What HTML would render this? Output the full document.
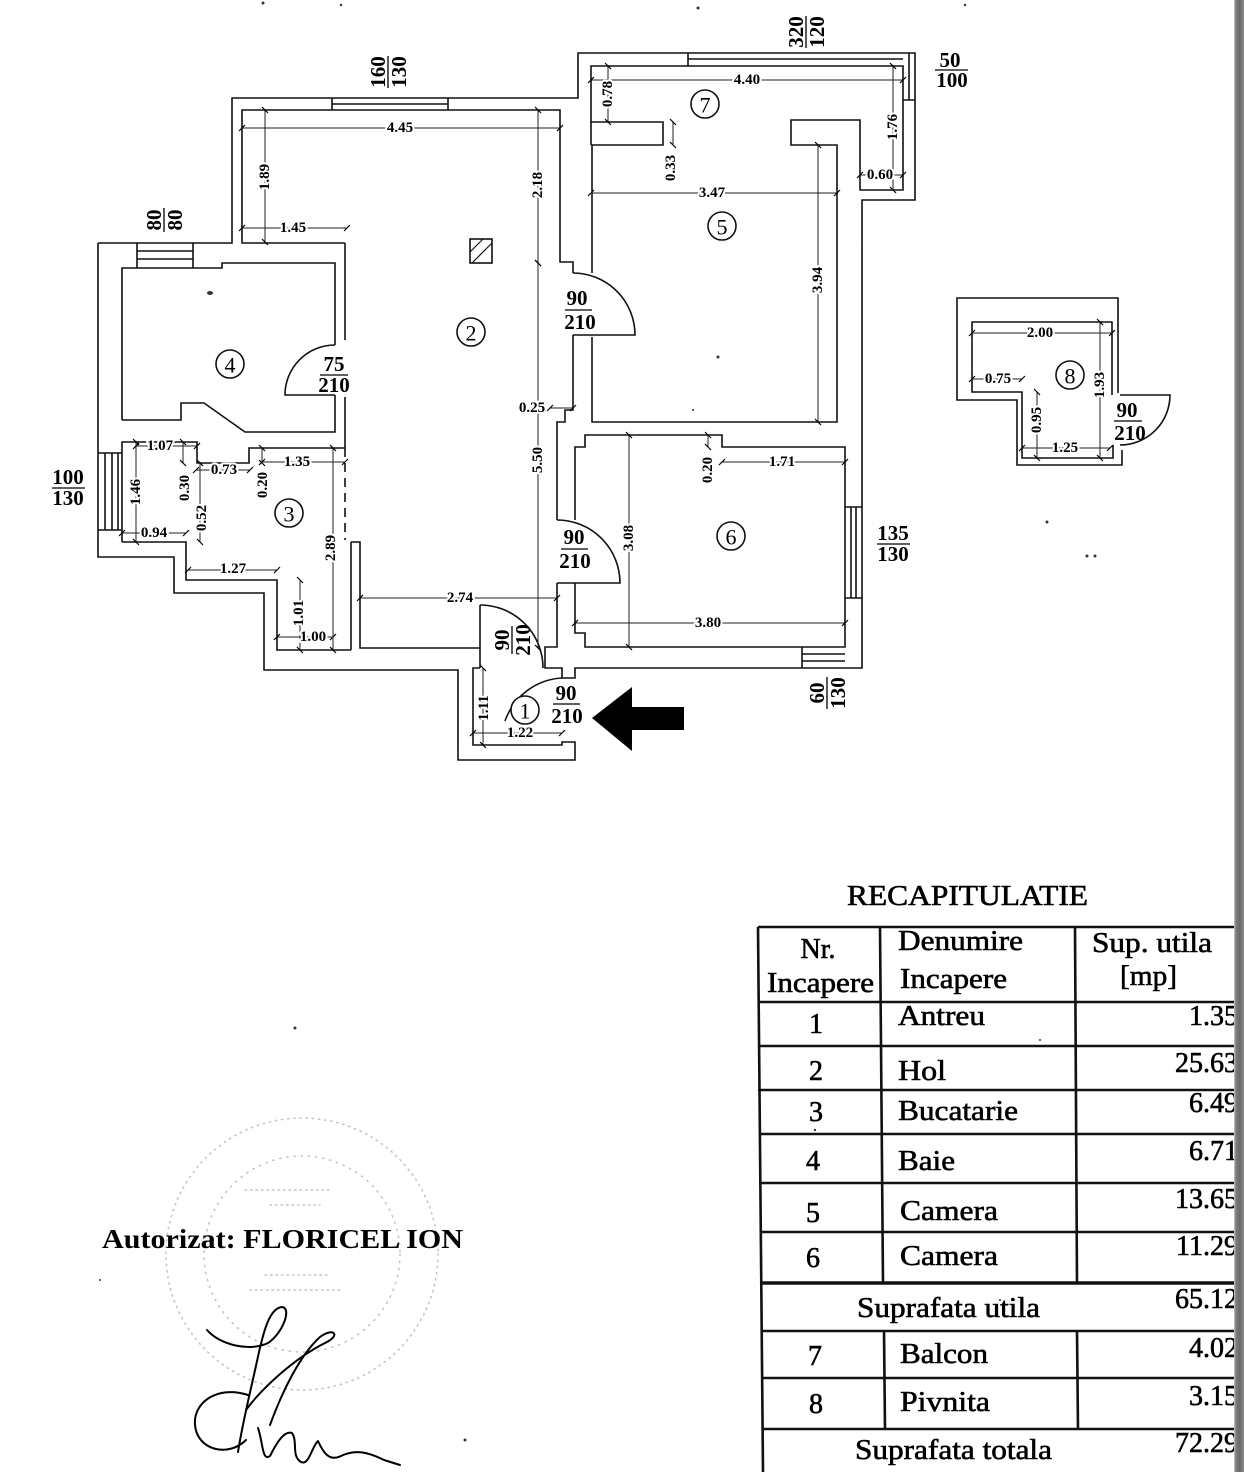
<!DOCTYPE html>
<html>
<head>
<meta charset="utf-8">
<style>
html,body{margin:0;padding:0;background:#fff;}
svg{display:block;}
.w{fill:none;stroke:#111;stroke-width:1.6;stroke-linejoin:miter;}
.d line{stroke:#222;stroke-width:1;marker-start:url(#tk);marker-end:url(#tk);}
.dt{font-family:"Liberation Serif",serif;font-weight:bold;font-size:15px;fill:#000;text-anchor:middle;dominant-baseline:central;paint-order:stroke;stroke:#fff;stroke-width:4px;stroke-linejoin:round;}
.dl{font-family:"Liberation Serif",serif;font-weight:bold;font-size:21px;fill:#000;text-anchor:middle;dominant-baseline:central;}
.cn{font-family:"Liberation Serif",serif;font-size:22px;fill:#000;text-anchor:middle;dominant-baseline:central;}
.tb{font-family:"Liberation Serif",serif;font-size:28px;fill:#000;stroke:#000;stroke-width:0.6px;}
.tl{stroke:#111;stroke-width:2.6;}
</style>
</head>
<body>
<svg width="1244" height="1472" viewBox="0 0 1244 1472" xmlns="http://www.w3.org/2000/svg">
<defs>
<marker id="tk" markerWidth="10" markerHeight="10" refX="5" refY="5" orient="auto" markerUnits="userSpaceOnUse">
<path d="M2 8 L8 2" stroke="#000" stroke-width="1.2"/>
</marker>
<linearGradient id="bar" x1="0" x2="1" y1="0" y2="0">
<stop offset="0" stop-color="#c8c8c8"/>
<stop offset="0.2" stop-color="#7c7c7c"/>
<stop offset="0.6" stop-color="#6a6a6a"/>
<stop offset="1" stop-color="#8c8c8c"/>
</linearGradient>
</defs>
<rect width="1244" height="1472" fill="#fff"/>

<!-- ============ WALLS ============ -->
<g class="w">
<path d="M98 243 L232 243 L232 98 L578 98 L578 53 L915 53 L915 200 L862 200 L862 668 L575 668 L575 678 L562 678 L562 668 L545 668 L545 647 L557 647 L557 583"/>
<path d="M345 243 L242 243 L242 110 L560 110 L560 262 L573 262 L573 273"/>
<path d="M573 335 L573 410 L565 410 L565 422 L557 422 L557 520"/>
<path d="M345 243 L345 340 M345 397 L345 448"/>
<path d="M345 448 L345 540" stroke-dasharray="9 6"/>
<path d="M351 542 L351 650 M351 542 L360 542 L360 648 L480 648"/>
<path d="M480 605 L480 668"/>
<path d="M98 243 L98 557 L174 557 L174 593 L264 593 L264 670 L458 670 L458 760 L575 760 L575 742 L562 742 L562 745 L473 745 L473 668 L480 668"/>
<path d="M122 420 L122 268 L222 268 L222 263 L335 263 L335 345"/>
<path d="M335 395 L335 432 L245 432 L204 403 L181 403 L181 420 L122 420"/>
<path d="M122 542 L122 442 L197 442 L197 463 L249 463 L249 448 L345 448"/>
<path d="M122 542 L186 542 L186 580 L277 580 L277 650 L351 650"/>
<path d="M591 145 L591 122 L663 122 L663 145 L591 145"/>
<path d="M591 122 L591 66 L903 66 L903 190 L860 190 L860 120 L791 120 L791 145 L837 145 L837 422 L592 422 L592 337"/>
<path d="M592 273 L592 145"/>
<path d="M575 520 L575 447 L585 447 L585 435 L722 435 L722 447 L845 447 L845 647 L585 647 L585 633 L575 633 L575 583"/>
<path d="M332 98 L332 110 M448 98 L448 110 M332 104 L448 104"/>
<path d="M137 243 L137 268 M193 243 L193 268 M137 251 L193 251 M137 259 L193 259"/>
<path d="M98 453 L122 453 M98 530 L122 530 M105 453 L105 530 M112 453 L112 530 M118 453 L118 530"/>
<path d="M688 53 L688 66 M688 59 L903 59"/>
<path d="M909 53 L909 100 M903 100 L915 100"/>
<path d="M845 507 L862 507 M845 598 L862 598 M851 507 L851 598 M856 507 L856 598"/>
<path d="M802 647 L802 668 M802 654 L845 654 M802 661 L845 661"/>
<path d="M335 345 A50 50 0 0 0 285 395 L335 395"/>
<path d="M573 273 A62 62 0 0 1 635 335 L573 335"/>
<path d="M557 520 A63 63 0 0 1 620 583 L557 583"/>
<path d="M480 605 A63 63 0 0 1 543 668"/>
<path d="M562 678 A64 64 0 0 0 505 721"/>
<path d="M1118 393 L1118 298 L957 298 L957 400 L1017 400 L1017 465 L1122 465 L1122 450"/>
<path d="M1112 395 L1112 322 L972 322 L972 392 L1022 392 L1022 458 L1113 458 L1113 445"/>
<path d="M1120 395 L1170 395 A50 50 0 0 1 1120 445"/>
<rect x="470" y="239" width="22" height="24"/>
<path d="M472 263 L492 243 M470 252 L483 239" stroke-width="1.2"/>
</g>

<path d="M592 718 L632 687 L632 707 L684 707 L684 730 L632 730 L632 751 Z" fill="#000"/>

<!-- ============ DIMENSIONS ============ -->
<g class="d">
<line x1="242" y1="128" x2="560" y2="128"/>
<line x1="265" y1="110" x2="265" y2="242"/>
<line x1="242" y1="228" x2="347" y2="228"/>
<line x1="538" y1="110" x2="538" y2="263"/>
<line x1="538" y1="263" x2="538" y2="648"/>
<line x1="550" y1="408" x2="573" y2="408"/>
<line x1="360" y1="598" x2="557" y2="598"/>
<line x1="591" y1="80" x2="903" y2="80"/>
<line x1="608" y1="66" x2="608" y2="122"/>
<line x1="673" y1="122" x2="673" y2="145"/>
<line x1="893" y1="66" x2="893" y2="190"/>
<line x1="860" y1="175" x2="903" y2="175"/>
<line x1="591" y1="193" x2="837" y2="193"/>
<line x1="818" y1="145" x2="818" y2="422"/>
<line x1="708" y1="435" x2="708" y2="447"/>
<line x1="722" y1="462" x2="845" y2="462"/>
<line x1="629" y1="435" x2="629" y2="647"/>
<line x1="575" y1="623" x2="845" y2="623"/>
<line x1="136" y1="442" x2="136" y2="542"/>
<line x1="136" y1="446" x2="197" y2="446"/>
<line x1="183" y1="442" x2="183" y2="463"/>
<line x1="196" y1="470" x2="250" y2="470"/>
<line x1="262" y1="448" x2="262" y2="463"/>
<line x1="262" y1="462" x2="345" y2="462"/>
<line x1="200" y1="463" x2="200" y2="542"/>
<line x1="122" y1="533" x2="186" y2="533"/>
<line x1="188" y1="570" x2="277" y2="570"/>
<line x1="300" y1="580" x2="300" y2="650"/>
<line x1="277" y1="637" x2="333" y2="637"/>
<line x1="333" y1="448" x2="333" y2="650"/>
<line x1="483" y1="668" x2="483" y2="745"/>
<line x1="473" y1="733" x2="562" y2="733"/>
<line x1="972" y1="333" x2="1112" y2="333"/>
<line x1="972" y1="379" x2="1022" y2="379"/>
<line x1="1100" y1="322" x2="1100" y2="458"/>
<line x1="1037" y1="392" x2="1037" y2="458"/>
<line x1="1022" y1="448" x2="1110" y2="448"/>
</g>

<g>
<text class="dt" x="400" y="128">4.45</text>
<text class="dt" transform="translate(265,177) rotate(-90)">1.89</text>
<text class="dt" x="293" y="228">1.45</text>
<text class="dt" transform="translate(538,185) rotate(-90)">2.18</text>
<text class="dt" transform="translate(538,460) rotate(-90)">5.50</text>
<text class="dt" x="532" y="408">0.25</text>
<text class="dt" x="460" y="598">2.74</text>
<text class="dt" x="747" y="80">4.40</text>
<text class="dt" transform="translate(608,94) rotate(-90)">0.78</text>
<text class="dt" transform="translate(671,168) rotate(-90)">0.33</text>
<text class="dt" transform="translate(893,127) rotate(-90)">1.76</text>
<text class="dt" x="880" y="175">0.60</text>
<text class="dt" x="712" y="193">3.47</text>
<text class="dt" transform="translate(818,280) rotate(-90)">3.94</text>
<text class="dt" transform="translate(708,470) rotate(-90)">0.20</text>
<text class="dt" x="782" y="462">1.71</text>
<text class="dt" transform="translate(629,538) rotate(-90)">3.08</text>
<text class="dt" x="708" y="623">3.80</text>
<text class="dt" transform="translate(136,492) rotate(-90)">1.46</text>
<text class="dt" x="160" y="446">1.07</text>
<text class="dt" transform="translate(185,488) rotate(-90)">0.30</text>
<text class="dt" x="224" y="470">0.73</text>
<text class="dt" transform="translate(263,485) rotate(-90)">0.20</text>
<text class="dt" x="297" y="462">1.35</text>
<text class="dt" transform="translate(202,518) rotate(-90)">0.52</text>
<text class="dt" x="154" y="533">0.94</text>
<text class="dt" x="233" y="569">1.27</text>
<text class="dt" transform="translate(299,613) rotate(-90)">1.01</text>
<text class="dt" x="313" y="637">1.00</text>
<text class="dt" transform="translate(331,548) rotate(-90)">2.89</text>
<text class="dt" transform="translate(484,708) rotate(-90)">1.11</text>
<text class="dt" x="520" y="733">1.22</text>
<text class="dt" x="1040" y="333">2.00</text>
<text class="dt" x="998" y="379">0.75</text>
<text class="dt" transform="translate(1100,385) rotate(-90)">1.93</text>
<text class="dt" transform="translate(1037,420) rotate(-90)">0.95</text>
<text class="dt" x="1065" y="448">1.25</text>
</g>

<g fill="#fff" stroke="#111" stroke-width="1.6">
<circle cx="525" cy="710" r="14"/>
<circle cx="471" cy="332" r="14"/>
<circle cx="289" cy="513" r="14"/>
<circle cx="230" cy="364" r="14"/>
<circle cx="722" cy="226" r="14"/>
<circle cx="731" cy="536" r="14"/>
<circle cx="705" cy="104" r="14"/>
<circle cx="1070" cy="375" r="14"/>
</g>
<g class="cn">
<text x="525" y="711">1</text>
<text x="471" y="333">2</text>
<text x="289" y="514">3</text>
<text x="230" y="365">4</text>
<text x="722" y="227">5</text>
<text x="731" y="537">6</text>
<text x="705" y="105">7</text>
<text x="1070" y="376">8</text>
</g>

<g class="dl">
<text x="577" y="298">90</text><text x="580" y="322">210</text>
<text x="574" y="537">90</text><text x="575" y="561">210</text>
<text x="334" y="364">75</text><text x="334" y="385">210</text>
<text x="566" y="693">90</text><text x="567" y="716">210</text>
<text x="1127" y="410">90</text><text x="1130" y="433">210</text>
<text x="950" y="60">50</text><text x="952" y="80">100</text>
<text x="68" y="477">100</text><text x="68" y="498">130</text>
<text x="893" y="533">135</text><text x="893" y="554">130</text>
<g transform="translate(512,640) rotate(-90)"><text x="0" y="-10">90</text><text x="0" y="11">210</text><line x1="-14" y1="0" x2="14" y2="0" stroke="#000" stroke-width="1.3"/></g>
<g transform="translate(388,72) rotate(-90)"><text x="0" y="-10">160</text><text x="0" y="11">130</text><line x1="-16" y1="0" x2="16" y2="0" stroke="#000" stroke-width="1.3"/></g>
<g transform="translate(164,220) rotate(-90)"><text x="0" y="-10">80</text><text x="0" y="11">80</text><line x1="-12" y1="0" x2="12" y2="0" stroke="#000" stroke-width="1.3"/></g>
<g transform="translate(806,32) rotate(-90)"><text x="0" y="-10">320</text><text x="0" y="11">120</text><line x1="-16" y1="0" x2="16" y2="0" stroke="#000" stroke-width="1.3"/></g>
<g transform="translate(827,693) rotate(-90)"><text x="0" y="-10">60</text><text x="0" y="11">130</text><line x1="-16" y1="0" x2="16" y2="0" stroke="#000" stroke-width="1.3"/></g>
</g>
<g stroke="#000" stroke-width="1.3">
<line x1="565" y1="310" x2="592" y2="310"/>
<line x1="561" y1="549" x2="588" y2="549"/>
<line x1="320" y1="375" x2="348" y2="375"/>
<line x1="553" y1="704" x2="580" y2="704"/>
<line x1="1114" y1="421" x2="1142" y2="421"/>
<line x1="935" y1="70" x2="968" y2="70"/>
<line x1="52" y1="488" x2="85" y2="488"/>
<line x1="877" y1="544" x2="910" y2="544"/>
</g>

<g fill="#333">
<ellipse cx="210" cy="293" rx="3" ry="2"/>
<circle cx="718" cy="357" r="1.5"/>
<circle cx="693" cy="410" r="1"/>
<circle cx="1047" cy="522" r="1.5"/>
<circle cx="1087" cy="556" r="1.5"/>
<circle cx="1095" cy="556" r="1.5"/>
<circle cx="295" cy="1028" r="1.5"/>
<circle cx="263" cy="3" r="1.5"/>
<circle cx="341" cy="5" r="1.2"/>
<circle cx="698" cy="8" r="1.5"/>
<circle cx="965" cy="5" r="1.2"/>
<circle cx="465" cy="1440" r="1.5"/>
<circle cx="815" cy="1130" r="1.2"/>
<circle cx="1040" cy="1040" r="1"/>
<circle cx="100" cy="1280" r="1"/>
<circle cx="1000" cy="1300" r="1"/>
</g>

<!-- ============ TABLE ============ -->
<text class="tb" x="847" y="905" textLength="241" lengthAdjust="spacingAndGlyphs">RECAPITULATIE</text>
<g class="tl">
<line x1="758" y1="927" x2="1240" y2="927"/>
<line x1="758" y1="1002" x2="1240" y2="1002"/>
<line x1="758" y1="1046" x2="1240" y2="1046"/>
<line x1="758" y1="1090" x2="1240" y2="1090"/>
<line x1="759" y1="1134" x2="1240" y2="1134"/>
<line x1="759" y1="1183" x2="1240" y2="1183"/>
<line x1="760" y1="1232" x2="1240" y2="1232"/>
<line x1="760" y1="1283" x2="1240" y2="1283" stroke-width="3.4"/>
<line x1="761" y1="1331" x2="1240" y2="1331"/>
<line x1="761" y1="1378" x2="1240" y2="1378"/>
<line x1="762" y1="1429" x2="1240" y2="1429"/>
<line x1="758" y1="927" x2="763" y2="1472"/>
<line x1="880" y1="927" x2="883" y2="1283"/>
<line x1="884" y1="1331" x2="885" y2="1429"/>
<line x1="1075" y1="927" x2="1077" y2="1283"/>
<line x1="1077" y1="1331" x2="1078" y2="1429"/>
</g>
<g class="tb">
<text x="818" y="958" text-anchor="middle">Nr.</text>
<text x="767" y="992" textLength="107" lengthAdjust="spacingAndGlyphs">Incapere</text>
<text x="898" y="950" textLength="125" lengthAdjust="spacingAndGlyphs">Denumire</text>
<text x="900" y="988" textLength="107" lengthAdjust="spacingAndGlyphs">Incapere</text>
<text x="1092" y="952" textLength="120" lengthAdjust="spacingAndGlyphs">Sup. utila</text>
<text x="1120" y="985" textLength="57" lengthAdjust="spacingAndGlyphs">[mp]</text>
<text x="816" y="1033" text-anchor="middle">1</text>
<text x="816" y="1080" text-anchor="middle">2</text>
<text x="816" y="1121" text-anchor="middle">3</text>
<text x="813" y="1170" text-anchor="middle">4</text>
<text x="813" y="1222" text-anchor="middle">5</text>
<text x="813" y="1267" text-anchor="middle">6</text>
<text x="815" y="1365" text-anchor="middle">7</text>
<text x="816" y="1413" text-anchor="middle">8</text>
<text x="898" y="1025" textLength="87" lengthAdjust="spacingAndGlyphs">Antreu</text>
<text x="898" y="1080" textLength="48" lengthAdjust="spacingAndGlyphs">Hol</text>
<text x="898" y="1120" textLength="120" lengthAdjust="spacingAndGlyphs">Bucatarie</text>
<text x="898" y="1170" textLength="57" lengthAdjust="spacingAndGlyphs">Baie</text>
<text x="900" y="1220" textLength="98" lengthAdjust="spacingAndGlyphs">Camera</text>
<text x="900" y="1265" textLength="98" lengthAdjust="spacingAndGlyphs">Camera</text>
<text x="900" y="1363" textLength="88" lengthAdjust="spacingAndGlyphs">Balcon</text>
<text x="900" y="1411" textLength="90" lengthAdjust="spacingAndGlyphs">Pivnita</text>
<text x="857" y="1317" textLength="183" lengthAdjust="spacingAndGlyphs">Suprafata utila</text>
<text x="855" y="1459" textLength="197" lengthAdjust="spacingAndGlyphs">Suprafata totala</text>
<text x="1238" y="1025" text-anchor="end">1.35</text>
<text x="1238" y="1072" text-anchor="end">25.63</text>
<text x="1238" y="1112" text-anchor="end">6.49</text>
<text x="1238" y="1160" text-anchor="end">6.71</text>
<text x="1238" y="1208" text-anchor="end">13.65</text>
<text x="1238" y="1255" text-anchor="end">11.29</text>
<text x="1238" y="1308" text-anchor="end">65.12</text>
<text x="1238" y="1357" text-anchor="end">4.02</text>
<text x="1238" y="1405" text-anchor="end">3.15</text>
<text x="1238" y="1452" text-anchor="end">72.29</text>
</g>

<!-- ============ STAMP + SIGNATURE ============ -->
<g fill="none" stroke="#c4c4c4" stroke-width="1.6" stroke-linecap="round">
<circle cx="302" cy="1254" r="136" stroke-dasharray="1.2 5"/>
<circle cx="302" cy="1254" r="98" stroke-dasharray="1.2 6"/>
<path d="M245 1190 L330 1190 M270 1205 L320 1205 M250 1290 L340 1290 M265 1275 L330 1275" stroke-dasharray="1.5 4"/>
</g>
<text x="102" y="1248" font-family="Liberation Serif, serif" font-weight="bold" font-size="27" fill="#000" textLength="361" lengthAdjust="spacingAndGlyphs">Autorizat:  FLORICEL ION</text>
<g fill="none" stroke="#000" stroke-width="2" stroke-linecap="round" stroke-linejoin="round">
<path d="M207 1330 C220 1345 250 1352 268 1343 C283 1333 292 1308 282 1307 C270 1308 264 1330 259 1352 C252 1385 243 1420 238 1452"/>
<path d="M246 1410 C262 1388 295 1358 325 1343 C342 1335 333 1327 320 1337 C300 1355 282 1392 270 1425"/>
<path d="M248 1395 C218 1385 193 1402 195 1425 C197 1450 228 1458 246 1440"/>
<path d="M258 1428 C263 1442 262 1462 270 1456 C276 1444 284 1430 292 1433 C298 1441 291 1456 301 1462 C309 1466 312 1446 318 1441 C323 1452 329 1462 341 1456 C355 1449 368 1452 384 1460 L400 1465"/>
</g>

<rect x="1234" y="0" width="10" height="1472" fill="url(#bar)"/>
</svg>
</body>
</html>
